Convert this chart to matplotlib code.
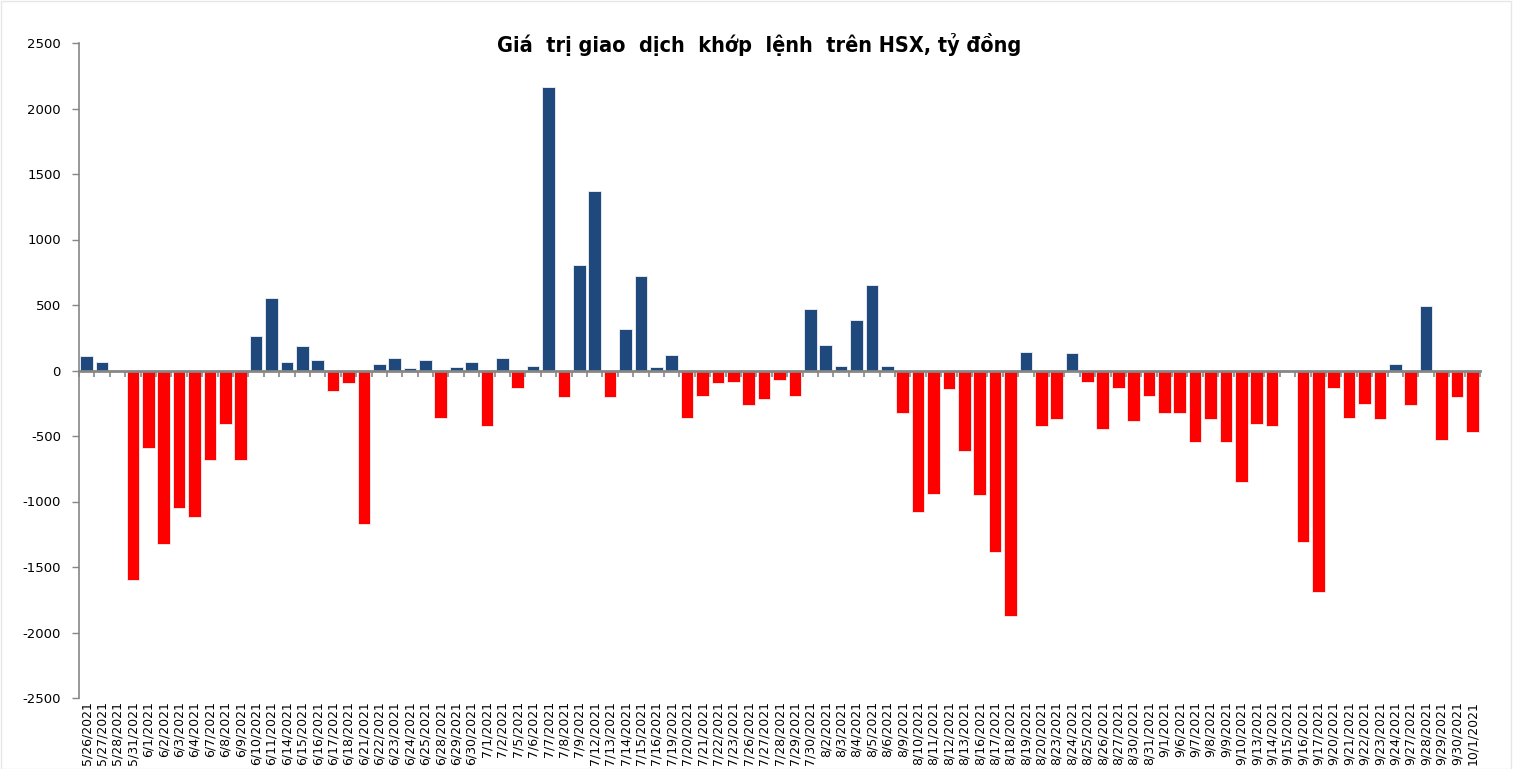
import matplotlib
matplotlib.use("Agg")
import matplotlib.pyplot as plt
from matplotlib.patches import Rectangle
import numpy as np

dates = ["5/26/2021", "5/27/2021", "5/28/2021", "5/31/2021",
         "6/1/2021", "6/2/2021", "6/3/2021", "6/4/2021", "6/7/2021", "6/8/2021", "6/9/2021",
         "6/10/2021", "6/11/2021", "6/14/2021", "6/15/2021", "6/16/2021", "6/17/2021", "6/18/2021",
         "6/21/2021", "6/22/2021", "6/23/2021", "6/24/2021", "6/25/2021", "6/28/2021", "6/29/2021",
         "6/30/2021",
         "7/1/2021", "7/2/2021", "7/5/2021", "7/6/2021", "7/7/2021", "7/8/2021", "7/9/2021",
         "7/12/2021", "7/13/2021", "7/14/2021", "7/15/2021", "7/16/2021", "7/19/2021", "7/20/2021",
         "7/21/2021", "7/22/2021", "7/23/2021", "7/26/2021", "7/27/2021", "7/28/2021", "7/29/2021",
         "7/30/2021",
         "8/2/2021", "8/3/2021", "8/4/2021", "8/5/2021", "8/6/2021", "8/9/2021", "8/10/2021",
         "8/11/2021", "8/12/2021", "8/13/2021", "8/16/2021", "8/17/2021", "8/18/2021", "8/19/2021",
         "8/20/2021", "8/23/2021", "8/24/2021", "8/25/2021", "8/26/2021", "8/27/2021", "8/30/2021",
         "8/31/2021",
         "9/1/2021", "9/6/2021", "9/7/2021", "9/8/2021", "9/9/2021", "9/10/2021", "9/13/2021",
         "9/14/2021", "9/15/2021", "9/16/2021", "9/17/2021", "9/20/2021", "9/21/2021", "9/22/2021",
         "9/23/2021", "9/24/2021", "9/27/2021", "9/28/2021", "9/29/2021", "9/30/2021",
         "10/1/2021"]

values = [112, 66, -5, -1596,
          -588, -1321, -1046, -1122, -680, -405, -680,
          265, 555, 66, 188, 81, -160, -99,
          -1168, 51, 97, 20, 81, -359, 23,
          66,
          -420, 97, -130, 38, 2163, -206, 802,
          1367, -206, 313, 725, 23, 115, -359,
          -191, -99, -84, -267, -221, -69, -191,
          466,
          191, 38, 389, 649, 38, -328, -1077,
          -939, -145, -618, -954, -1382, -1871, 145,
          -420, -374, 130, -84, -450, -130, -389,
          -191,
          -328, -328, -542, -374, -542, -848, -405,
          -420, -5, -1306, -1690, -130, -359, -252,
          -374, 53, -267, 494, -527, -206,
          -466]

title = "Giá  trị giao  dịch  khớp  lệnh  trên HSX, tỷ đồng"
yticks = [-2500, -2000, -1500, -1000, -500, 0, 500, 1000, 1500, 2000, 2500]

BLUE = "#1F497D"
RED = "#FF0000"
GRAY = "#868686"

W, H = 1518, 769
fig = plt.figure(figsize=(W / 100, H / 100), dpi=100)
ax = fig.add_axes([79 / W, 1 - 698 / H, (1480 - 79) / W, (698 - 43) / H])

x = np.arange(len(values))
colors = [BLUE if v >= 0 else RED for v in values]
ax.bar(x, values, width=0.82, color=colors, edgecolor="#F2F2F2", linewidth=0.6, zorder=2)

ax.set_xlim(-0.5, len(values) - 0.5)
ax.set_ylim(-2500, 2500)
ax.set_yticks(yticks)
ax.set_yticklabels([str(t) for t in yticks], fontsize=9.5, color="#000000")
ax.tick_params(axis="y", direction="out", length=5, width=1, color=GRAY, pad=8)

ax.set_xticks(x)
ax.set_xticklabels(dates, rotation=90, fontsize=9, color="#000000")
ax.tick_params(axis="x", length=0, pad=2)

for s in ["top", "right", "bottom"]:
    ax.spines[s].set_visible(False)
ax.spines["left"].set_color(GRAY)
ax.spines["left"].set_linewidth(1.2)

# category axis crossing at zero with boundary tick marks
sec = ax.secondary_xaxis(0.49999)
sec.set_xticks(np.arange(len(values) + 1) - 0.5)
sec.set_xticklabels([])
sec.tick_params(axis="x", which="both", direction="out",
                length=4, width=1.2, color=GRAY)
sec.spines["bottom"].set_color(GRAY)
sec.spines["bottom"].set_linewidth(2)
sec.spines["top"].set_visible(False)
sec.set_zorder(3)

fig.text(0.5, 1 - 45 / H, title, ha="center", va="center", fontsize=15.5,
         fontweight="bold", fontstretch="condensed", family="DejaVu Sans")

fig.patches.append(Rectangle((1 / W, 0), (1511 - 1) / W, 1 - 1 / H, transform=fig.transFigure,
                             fill=False, edgecolor="#E6E6E6", linewidth=1))

fig.savefig("out.png", dpi=100)
